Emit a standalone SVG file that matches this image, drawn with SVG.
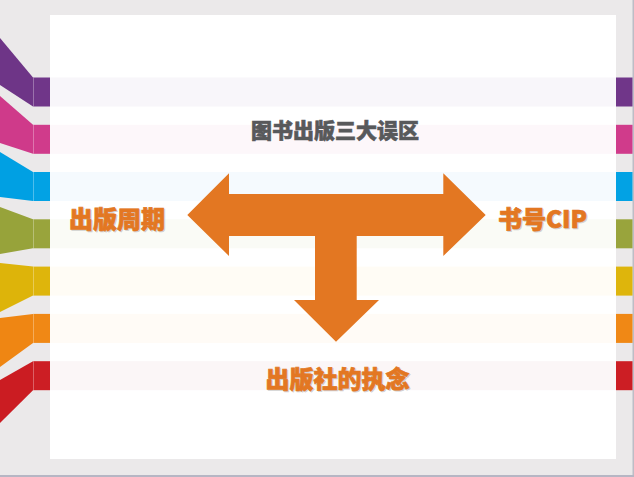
<svg xmlns="http://www.w3.org/2000/svg" width="634" height="477" viewBox="0 0 634 477">
  <defs>
    <style>
      .ttl{font-family:"Noto Sans CJK SC","Liberation Sans",sans-serif;font-weight:900;}
      .lbl{fill:#E37722;stroke:#E37722;stroke-width:0.7;font-size:24px;}
      .hdr{fill:#58595B;stroke:#58595B;stroke-width:0.6;font-size:21px;}
      .sh{fill:#BFBFBF;stroke:#BFBFBF;stroke-width:0.7;opacity:0.7;}
    </style>
  </defs>
  <!-- background -->
  <rect x="0" y="0" width="634" height="477" fill="#EBE9EA"/>
  <rect x="0" y="475" width="634" height="2" fill="#B6B6C4"/>
  <rect x="632.5" y="0" width="1.5" height="475" fill="#BDBDC6"/>
  <!-- card -->
  <rect x="50" y="15" width="566" height="444" fill="#FFFFFF"/>
  <!-- ribbons -->
  <g id="ribbons">
    <g id="band-purple">
      <rect x="50" y="77.5" width="566" height="29" fill="#F8F6FA"/>
      <polygon points="0,38 33,77.5 33,106.5 0,85" fill="#6E3587"/>
      <rect x="33" y="77.5" width="17" height="29" fill="#703689"/>
      <rect x="616" y="77.5" width="16.5" height="29" fill="#703689"/>
    </g>
    <g id="band-pink">
      <rect x="50" y="124.8" width="566" height="29" fill="#FDF7FA"/>
      <polygon points="0,96 33,124.8 33,153.8 0,143" fill="#CF3A8A"/>
      <rect x="33" y="124.8" width="17" height="29" fill="#D03B8B"/>
      <rect x="616" y="124.8" width="16.5" height="29" fill="#D03B8B"/>
    </g>
    <g id="band-blue">
      <rect x="50" y="172" width="566" height="29" fill="#F5FAFE"/>
      <polygon points="0,152 33,172 33,201 0,197" fill="#00A0E3"/>
      <rect x="33" y="172" width="17" height="29" fill="#02A2E4"/>
      <rect x="616" y="172" width="16.5" height="29" fill="#02A2E4"/>
    </g>
    <g id="band-olive">
      <rect x="50" y="219.3" width="566" height="29" fill="#FAFBF6"/>
      <polygon points="0,207 33,219.3 33,248.3 0,254" fill="#97A33A"/>
      <rect x="33" y="219.3" width="17" height="29" fill="#99A43C"/>
      <rect x="616" y="219.3" width="16.5" height="29" fill="#99A43C"/>
    </g>
    <g id="band-yellow">
      <rect x="50" y="266.6" width="566" height="29" fill="#FFFCF5"/>
      <polygon points="0,263 33,266.6 33,295.6 0,312" fill="#DDB40A"/>
      <rect x="33" y="266.6" width="17" height="29" fill="#DEB50C"/>
      <rect x="616" y="266.6" width="16.5" height="29" fill="#DEB50C"/>
    </g>
    <g id="band-orange">
      <rect x="50" y="313.9" width="566" height="29" fill="#FFFBF6"/>
      <polygon points="0,318 33,313.9 33,342.9 0,367" fill="#EF8613"/>
      <rect x="33" y="313.9" width="17" height="29" fill="#F08815"/>
      <rect x="616" y="313.9" width="16.5" height="29" fill="#F08815"/>
    </g>
    <g id="band-red">
      <rect x="50" y="361.2" width="566" height="29" fill="#FBF6F7"/>
      <polygon points="0,380 33,361.2 33,390.2 0,423" fill="#CB1C22"/>
      <rect x="33" y="361.2" width="17" height="29" fill="#CC1E24"/>
      <rect x="616" y="361.2" width="16.5" height="29" fill="#CC1E24"/>
    </g>
    <g stroke="#FFFFFF" stroke-opacity="0.3" stroke-width="1">
      <line x1="33.5" y1="77.5" x2="33.5" y2="106.5"/>
      <line x1="33.5" y1="124.8" x2="33.5" y2="153.8"/>
      <line x1="33.5" y1="172" x2="33.5" y2="201"/>
      <line x1="33.5" y1="219.3" x2="33.5" y2="248.3"/>
      <line x1="33.5" y1="266.6" x2="33.5" y2="295.6"/>
      <line x1="33.5" y1="313.9" x2="33.5" y2="342.9"/>
      <line x1="33.5" y1="361.2" x2="33.5" y2="390.2"/>
    </g>
  </g>
  <!-- title -->
  <g id="title">
    <text class="ttl hdr" x="335" y="138" text-anchor="middle">图书出版三大误区</text>
  </g>
  <!-- connectors: T-shaped block arrow -->
  <g id="connectors">
    <polygon fill="#E37722" points="187.3,215 229,173.3 229,194 443.3,194 443.3,173.3 485.7,215 443.3,256 443.3,236 356.7,236 356.7,300 379,300 336,341.7 294,300 315,300 315,236 229,236 229,256"/>
  </g>
  <!-- nodes -->
  <g id="node-left">
    <text class="ttl sh" x="118" y="229" font-size="24" text-anchor="middle">出版周期</text>
    <text class="ttl lbl" x="117" y="228" text-anchor="middle">出版周期</text>
  </g>
  <g id="node-right">
    <text class="ttl sh" x="543.5" y="229" font-size="24" text-anchor="middle">书号CIP</text>
    <text class="ttl lbl" x="542.5" y="228" text-anchor="middle">书号CIP</text>
  </g>
  <g id="node-bottom">
    <text class="ttl sh" x="338.5" y="389" font-size="24" text-anchor="middle">出版社的执念</text>
    <text class="ttl lbl" x="337.5" y="388" text-anchor="middle">出版社的执念</text>
  </g>
</svg>
